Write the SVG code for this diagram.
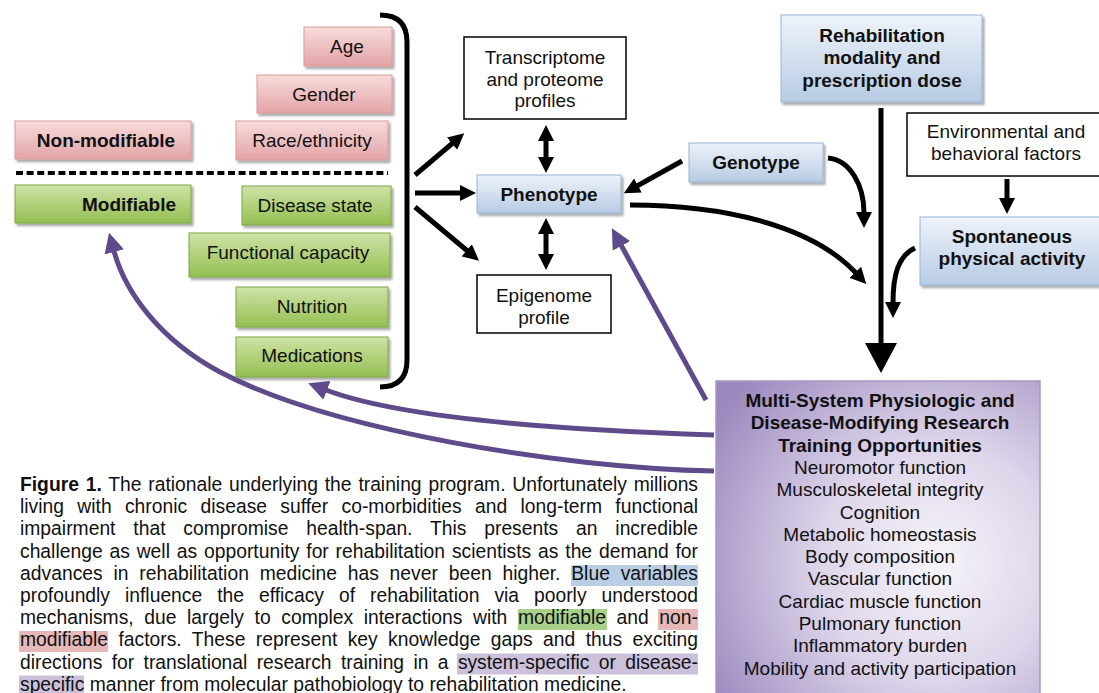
<svg xmlns="http://www.w3.org/2000/svg" width="1099" height="693" viewBox="0 0 1099 693">
<defs>
<linearGradient id="gPink" x1="0" y1="0" x2="0" y2="1"><stop offset="0" stop-color="#f7dcdc"/><stop offset="1" stop-color="#e3a3a6"/></linearGradient>
<linearGradient id="gGreen" x1="0" y1="0" x2="0" y2="1"><stop offset="0" stop-color="#cfe3a6"/><stop offset="1" stop-color="#93bf52"/></linearGradient>
<linearGradient id="gBlue" x1="0" y1="0" x2="0" y2="1"><stop offset="0" stop-color="#eef3fa"/><stop offset="1" stop-color="#b7cbe4"/></linearGradient>
<radialGradient id="gPurple" cx="0.68" cy="0.55" r="0.8"><stop offset="0" stop-color="#f7f5fa"/><stop offset="0.45" stop-color="#ddd5ea"/><stop offset="1" stop-color="#9c89bf"/></radialGradient>
<filter id="sh" x="-10%" y="-20%" width="120%" height="150%"><feDropShadow dx="2" dy="2.5" stdDeviation="1.2" flood-color="#000" flood-opacity="0.35"/></filter>
<marker id="ah" markerUnits="userSpaceOnUse" viewBox="0 0 16 16" markerWidth="16" markerHeight="16" refX="1" refY="8" orient="auto-start-reverse"><path d="M0,0 L16,8 L0,16 z" fill="#000"/></marker>
<marker id="ap" markerUnits="userSpaceOnUse" viewBox="0 0 20 20" markerWidth="20" markerHeight="20" refX="1" refY="10" orient="auto"><path d="M0,0 L20,10 L0,20 z" fill="#5f4b8b"/></marker>
<style>
.t{font-family:"Liberation Sans",Arial,sans-serif;font-size:19px;fill:#111;text-anchor:middle}
.b{font-weight:bold}
.pink{fill:url(#gPink);stroke:#d99a9c;stroke-width:1;filter:url(#sh)}
.green{fill:url(#gGreen);stroke:#7fa545;stroke-width:1;filter:url(#sh)}
.blue{fill:url(#gBlue);stroke:#95b3d7;stroke-width:1;filter:url(#sh)}
.white{fill:#fff;stroke:#000;stroke-width:1.5}
.k{fill:none;stroke:#000;stroke-width:5}
.p{fill:none;stroke:#5f4b8b;stroke-width:5}
.cap{font-family:"Liberation Sans",Arial,sans-serif;font-size:19.3px;fill:#111}
</style>
</defs>
<rect width="1099" height="693" fill="#fff"/>

<g id="node-age"><rect class="pink" x="304" y="27" width="88" height="39"/><text class="t" x="347" y="53">Age</text></g>
<g id="node-gender"><rect class="pink" x="257" y="75" width="135" height="38"/><text class="t" x="324" y="101">Gender</text></g>
<g id="node-race"><rect class="pink" x="236" y="121" width="152" height="39"/><text class="t" x="312" y="147">Race/ethnicity</text></g>
<g id="node-nonmodifiable"><rect class="pink" x="15" y="121" width="176" height="38"/><text class="t b" x="106" y="147">Non-modifiable</text></g>
<g id="divider"><line x1="16" y1="173" x2="388" y2="173" stroke="#000" stroke-width="4" stroke-dasharray="7 3.6"/></g>
<g id="node-modifiable"><rect class="green" x="15" y="185" width="176" height="38"/><text class="t b" x="176" y="211" style="text-anchor:end">Modifiable</text></g>
<g id="node-disease"><rect class="green" x="242" y="186" width="149" height="39"/><text class="t" x="315" y="212">Disease state</text></g>
<g id="node-functional"><rect class="green" x="189" y="233" width="201" height="44"/><text class="t" x="288" y="259">Functional capacity</text></g>
<g id="node-nutrition"><rect class="green" x="236" y="287" width="152" height="40"/><text class="t" x="312" y="313">Nutrition</text></g>
<g id="node-medications"><rect class="green" x="236" y="337" width="152" height="40"/><text class="t" x="312" y="362">Medications</text></g>

<g id="node-transcriptome"><rect class="white" x="464" y="37" width="162" height="82"/><text class="t" x="545" y="64">Transcriptome</text><text class="t" x="545" y="86">and proteome</text><text class="t" x="545" y="107">profiles</text></g>
<g id="node-phenotype"><rect class="blue" x="477" y="175" width="144" height="38"/><text class="t b" x="549" y="201">Phenotype</text></g>
<g id="node-epigenome"><rect class="white" x="477" y="275" width="134" height="58"/><text class="t" x="544" y="302">Epigenome</text><text class="t" x="544" y="324">profile</text></g>
<g id="node-genotype"><rect class="blue" x="689" y="143" width="134" height="39"/><text class="t b" x="756" y="169">Genotype</text></g>
<g id="node-rehab"><rect class="blue" x="781" y="15" width="201" height="87"/><text class="t b" x="882" y="42">Rehabilitation</text><text class="t b" x="882" y="64">modality and</text><text class="t b" x="882" y="87">prescription dose</text></g>
<g id="node-environment"><rect class="white" x="907" y="113" width="200" height="63"/><text class="t" x="1006" y="138">Environmental and</text><text class="t" x="1006" y="160">behavioral factors</text></g>
<g id="node-spontaneous"><rect class="blue" x="920" y="217" width="190" height="68"/><text class="t b" x="1012" y="243">Spontaneous</text><text class="t b" x="1012" y="265">physical activity</text></g>
<g id="node-multisystem"><rect x="716" y="381" width="324" height="330" fill="url(#gPurple)" stroke="#a796c6" stroke-width="1.5"/>
<text class="t b" x="880" y="407">Multi-System Physiologic and</text>
<text class="t b" x="880" y="429.3">Disease-Modifying Research</text>
<text class="t b" x="880" y="451.6">Training Opportunities</text>
<text class="t" x="880" y="473.9">Neuromotor function</text>
<text class="t" x="880" y="496.2">Musculoskeletal integrity</text>
<text class="t" x="880" y="518.5">Cognition</text>
<text class="t" x="880" y="540.8">Metabolic homeostasis</text>
<text class="t" x="880" y="563.1">Body composition</text>
<text class="t" x="880" y="585.4">Vascular function</text>
<text class="t" x="880" y="607.7">Cardiac muscle function</text>
<text class="t" x="880" y="630">Pulmonary function</text>
<text class="t" x="880" y="652.3">Inflammatory burden</text>
<text class="t" x="880" y="674.6">Mobility and activity participation</text>
</g>

<g id="connectors">
<path class="k" stroke-width="4" d="M380,15 Q407,15 407,42 L407,360 Q407,387 380,387"/>
<path class="k" d="M415,175 L452.8,143" marker-end="url(#ah)"/>
<path class="k" d="M415,193 L461,193" marker-end="url(#ah)"/>
<path class="k" d="M415,207 L467.5,251" marker-end="url(#ah)"/>
<path class="k" d="M546,140 L546,158" marker-start="url(#ah)" marker-end="url(#ah)"/>
<path class="k" d="M546,233 L546,255" marker-start="url(#ah)" marker-end="url(#ah)"/>
<path class="k" d="M682,161 L637,186" marker-end="url(#ah)"/>
<path class="k" d="M630,205 C720,205 810,224 856,273" marker-end="url(#ah)"/>
<path class="k" d="M828,158 C850,160 864,185 864,213" marker-end="url(#ah)"/>
<path class="k" d="M915,248 C898,256 893,275 893,303" marker-end="url(#ah)"/>
<path class="k" d="M1007,179 L1007,199" marker-end="url(#ah)"/>
<path class="k" stroke-width="12" d="M881,108 L881,345"/>
<polygon points="865,343 897,343 881,373" fill="#000"/>
<path class="p" d="M706,400 L621,245" marker-end="url(#ap)"/>
<path class="p" d="M714,435 C560,430 400,418 326,390" marker-end="url(#ap)"/>
<path class="p" d="M714,471 C560,468 330,430 220,372 C160,340 125,292 114,251" marker-end="url(#ap)"/>
</g>

<g id="caption">
<rect x="571" y="565" width="127" height="21" fill="#b9cde5"/>
<rect x="518" y="609" width="89" height="21" fill="#a8d089"/>
<rect x="658" y="609" width="40" height="21" fill="#e6b9b8"/>
<rect x="19" y="631" width="89" height="21" fill="#e6b9b8"/>
<rect x="457" y="653.5" width="241" height="21" fill="#ccc1da"/>
<rect x="19" y="675.5" width="65" height="18" fill="#ccc1da"/>
<text class="cap" x="20" y="491" word-spacing="1.48" textLength="678" lengthAdjust="spacing"><tspan font-weight="bold">Figure 1.</tspan> The rationale underlying the training program. Unfortunately millions</text>
<text class="cap" x="20" y="513.2" word-spacing="7.92" textLength="678" lengthAdjust="spacing">living with chronic disease suffer co-morbidities and long-term functional</text>
<text class="cap" x="20" y="535.4" word-spacing="12.43" textLength="678" lengthAdjust="spacing">impairment that compromise health-span. This presents an incredible</text>
<text class="cap" x="20" y="557.6" word-spacing="1.47" textLength="678" lengthAdjust="spacing">challenge as well as opportunity for rehabilitation scientists as the demand for</text>
<text class="cap" x="20" y="579.8" word-spacing="5.36" textLength="678" lengthAdjust="spacing">advances in rehabilitation medicine has never been higher. Blue variables</text>
<text class="cap" x="20" y="602" word-spacing="9.67" textLength="678" lengthAdjust="spacing">profoundly influence the efficacy of rehabilitation via poorly understood</text>
<text class="cap" x="20" y="624.2" word-spacing="5.25" textLength="678" lengthAdjust="spacing">mechanisms, due largely to complex interactions with modifiable and non-</text>
<text class="cap" x="20" y="646.4" word-spacing="5.01" textLength="678" lengthAdjust="spacing">modifiable factors. These represent key knowledge gaps and thus exciting</text>
<text class="cap" x="20" y="668.6" word-spacing="4.04" textLength="678" lengthAdjust="spacing">directions for translational research training in a system-specific or disease-</text>
<text class="cap" x="20" y="690.8">specific manner from molecular pathobiology to rehabilitation medicine.</text>
</g>
</svg>
